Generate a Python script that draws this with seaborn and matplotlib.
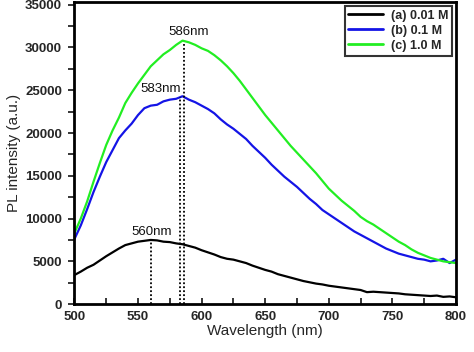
import numpy as np
import pandas as pd
import matplotlib
matplotlib.use("Agg")
import matplotlib.pyplot as plt
from matplotlib.ticker import MultipleLocator
import seaborn as sns

wavelength = list(range(500, 801, 5))

black_a = [3400, 3800, 4250, 4600, 5100, 5600, 6050, 6500, 6900, 7100,
           7300, 7400, 7500, 7450, 7300, 7250, 7100, 7000, 6800, 6600,
           6300, 6050, 5800, 5500, 5300, 5200, 5000, 4800, 4500, 4250,
           4000, 3800, 3500, 3300, 3100, 2900, 2700, 2550, 2400, 2300,
           2150, 2050, 1950, 1850, 1750, 1650, 1400, 1450, 1400, 1350,
           1300, 1250, 1150, 1100, 1050, 1000, 950, 1000, 850, 900, 800]

blue_b = [7600, 9200, 11100, 13100, 14900, 16600, 18000, 19400, 20300, 21100,
          22100, 22900, 23200, 23300, 23700, 23900, 24000, 24300, 23900, 23600,
          23200, 22800, 22300, 21600, 21000, 20500, 19900, 19300, 18500, 17800,
          17100, 16300, 15600, 14900, 14300, 13700, 13000, 12300, 11700, 11000,
          10500, 10000, 9500, 9000, 8500, 8100, 7700, 7300, 6900, 6500,
          6200, 5900, 5700, 5500, 5300, 5200, 5000, 5100, 5300, 4800, 5200]

green_c = [8300, 10000, 12000, 14300, 16500, 18600, 20300, 21800, 23500, 24700,
           25800, 26800, 27800, 28500, 29200, 29700, 30300, 30800, 30600, 30300,
           29900, 29600, 29100, 28500, 27800, 27000, 26100, 25100, 24100, 23100,
           22100, 21200, 20300, 19400, 18500, 17700, 16900, 16100, 15300, 14400,
           13500, 12800, 12100, 11500, 10900, 10200, 9700, 9300, 8800, 8300,
           7800, 7300, 6900, 6400, 6000, 5700, 5400, 5200, 5000, 4900, 4800]

series_labels = ["(a) 0.01 M", "(b) 0.1 M", "(c) 1.0 M"]
series_colors = ["#000000", "#1414e6", "#22ee22"]
peak_nm = [560, 583, 586]
peak_val = [7500, 24200, 30500]
peak_text = ["560nm", "583nm", "586nm"]

df = pd.concat([
    pd.DataFrame({"Wavelength": wavelength, "Intensity": vals, "Sample": lab})
    for vals, lab in zip([black_a, blue_b, green_c], series_labels)
])

sns.set_style("ticks")
plt.rcParams["font.family"] = ["Liberation Sans", "DejaVu Sans"]

fig = plt.figure(figsize=(4.74, 3.52), dpi=100)
ax = fig.add_axes([0.157, 0.136, 0.805, 0.858])

sns.lineplot(data=df, x="Wavelength", y="Intensity", hue="Sample",
             palette=dict(zip(series_labels, series_colors)), linewidth=1.6,
             ax=ax, legend=True)

for xn, yv in zip(peak_nm, peak_val):
    ax.vlines(xn, 0, yv, colors="black", linestyles=(0, (1.0, 1.2)), linewidth=1.3)

text_pos = [(561, 8450), (568, 25100), (590, 31800)]
for (tx, ty), t in zip(text_pos, peak_text):
    ax.text(tx, ty, t, ha="center", va="center", fontsize=9.5, color="#111111")

ax.set_xlim(500, 800)
ax.set_ylim(0, 35300)
ax.xaxis.set_major_locator(MultipleLocator(50))
ax.xaxis.set_minor_locator(MultipleLocator(25))
ax.yaxis.set_major_locator(MultipleLocator(5000))
ax.yaxis.set_minor_locator(MultipleLocator(2500))
ax.tick_params(axis="x", which="both", direction="in", length=4, width=1.3, labelsize=9.5, pad=5)
ax.tick_params(axis="y", which="both", direction="out", length=4, width=1.3, labelsize=9.5, pad=5)
for lab in ax.get_xticklabels() + ax.get_yticklabels():
    lab.set_fontweight("bold")

for sp in ax.spines.values():
    sp.set_visible(True)
    sp.set_linewidth(2.0)
    sp.set_color("black")

ax.set_xlabel("Wavelength (nm)", fontsize=11, labelpad=1)
ax.set_ylabel("PL intensity (a.u.)", fontsize=11, labelpad=3)

leg = ax.legend(loc="upper right", frameon=True, fancybox=False, fontsize=9,
                handlelength=2.8, borderpad=0.3, labelspacing=0.25,
                borderaxespad=0.3, handletextpad=0.6)
leg.get_frame().set_edgecolor("black")
leg.get_frame().set_linewidth(1.5)
for t in leg.get_texts():
    t.set_fontweight("bold")
for h in leg.get_lines():
    h.set_linewidth(2.0)

fig.savefig("out.png", dpi=100)
